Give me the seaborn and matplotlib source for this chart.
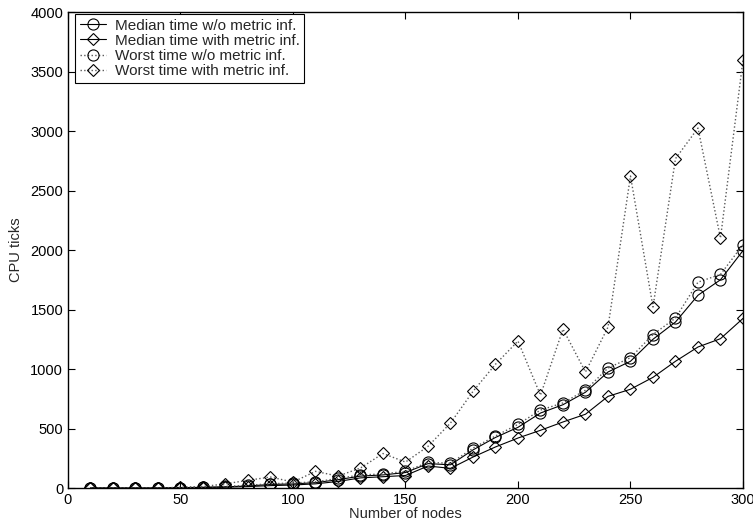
import matplotlib
matplotlib.use("Agg")
import matplotlib.pyplot as plt
import seaborn as sns
import pandas as pd

# Number of nodes
nodes = list(range(10, 301, 10))

# CPU ticks
median_wo = [0, 0, 0, 0, 3, 6, 10, 17, 30, 34, 45, 70, 100, 110, 130,
             205, 195, 320, 425, 510, 630, 700, 805, 975, 1065,
             1250, 1395, 1620, 1750, 1995]
median_with = [0, 0, 0, 0, 2, 4, 7, 12, 20, 25, 35, 55, 85, 95, 105,
               185, 165, 260, 345, 420, 485, 555, 620, 770, 830,
               930, 1065, 1185, 1255, 1425]
worst_wo = [0, 0, 0, 0, 4, 8, 14, 22, 36, 42, 52, 80, 110, 118, 140,
            215, 208, 335, 437, 535, 655, 715, 822, 1008, 1095,
            1290, 1428, 1730, 1795, 2045]
worst_with = [0, 0, 0, 0, 6, 12, 35, 65, 92, 50, 140, 100, 168, 290, 218,
              350, 546, 812, 1040, 1235, 780, 1335, 975, 1352, 2622,
              1521, 2768, 3025, 2100, 3597]

series = [
    ("Median time w/o metric inf.", median_wo, "o", "-"),
    ("Median time with metric inf.", median_with, "D", "-"),
    ("Worst time w/o metric inf.", worst_wo, "o", ":"),
    ("Worst time with metric inf.", worst_with, "D", ":"),
]

sns.set_theme(style="ticks")
plt.rcParams["font.family"] = ["Liberation Sans", "DejaVu Sans"]

fig = plt.figure(figsize=(7.53, 5.24), dpi=100)
ax = fig.add_axes([0.0903, 0.0687, 0.8964, 0.9083])

for name, vals, mk, ls in series:
    df = pd.DataFrame({"nodes": nodes, "ticks": vals})
    sns.lineplot(data=df, x="nodes", y="ticks", ax=ax, label=name,
                 color="black" if ls == "-" else "0.35",
                 linestyle=ls, linewidth=0.8 if ls == "-" else 1.0,
                 marker=mk, markersize=8 if mk == "o" else 6,
                 markerfacecolor="none", markeredgecolor="black",
                 markeredgewidth=0.8)

ax.set_xlim(0, 300)
ax.set_ylim(0, 4000)
ax.set_xticks(range(0, 301, 50))
ax.set_yticks(range(0, 4001, 500))
ax.tick_params(direction="in", length=5, width=0.8, labelsize=10.5,
               top=True, right=True, colors="black")
for sp in ax.spines.values():
    sp.set_visible(True)
    sp.set_linewidth(1.0)
    sp.set_color("black")

ax.set_xlabel("Number of nodes", fontsize=10.5, labelpad=0)
ax.set_ylabel("CPU ticks", fontsize=10.5, labelpad=5)

leg = ax.legend(loc="upper left", bbox_to_anchor=(0.0104, 0.996),
                borderaxespad=0, fontsize=11, frameon=True, fancybox=False,
                edgecolor="black", framealpha=1, borderpad=0.3,
                labelspacing=0.08, handlelength=1.7, handletextpad=0.6)
leg.get_frame().set_linewidth(0.8)

fig.savefig("out.png", dpi=100)
